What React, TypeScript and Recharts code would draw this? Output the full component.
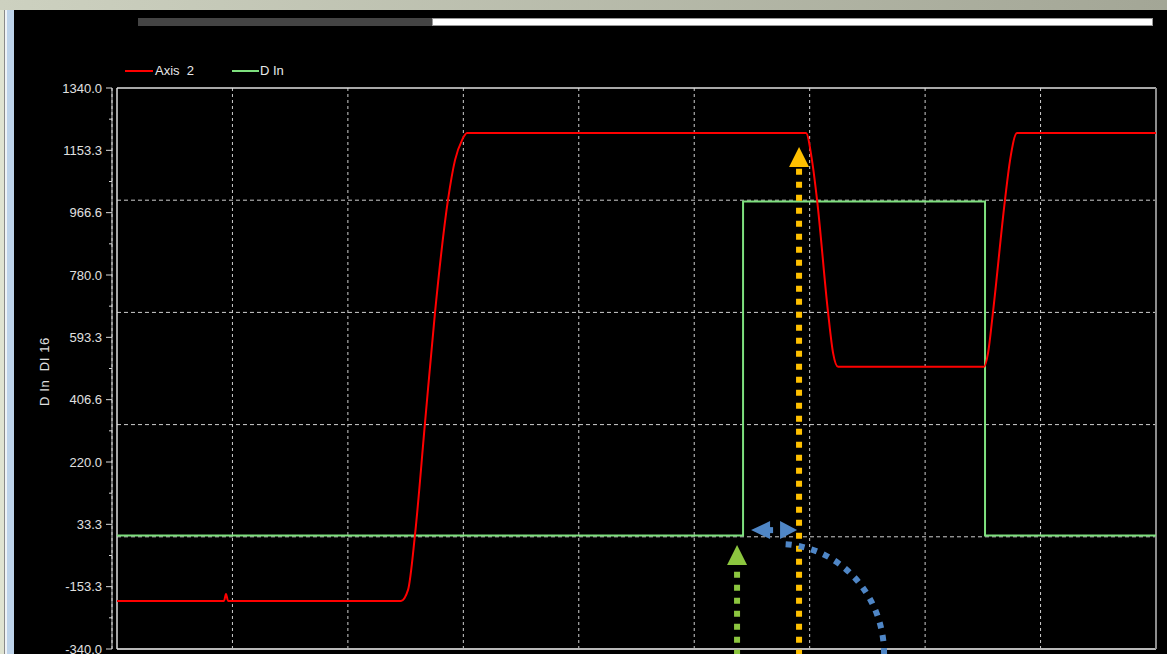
import React from 'react';
import { LineChart, Line, XAxis, YAxis, CartesianGrid, ReferenceLine, ReferenceDot } from 'recharts';

// time axis in grid divisions (0..9), values in the y-axis units
const axis2X = [0, 0.927, 0.944, 0.962, 2.46, 2.521, 2.581, 2.668, 2.755, 2.867, 2.928, 2.989, 3.032, 5.968, 6.02, 6.064, 6.159, 6.203, 6.246, 7.51, 7.545, 7.588, 7.692, 7.736, 7.796, 9];
const axis2Y = [-196, -196, -175, -196, -196, -163, 1, 337, 669, 1005, 1124, 1184, 1205, 1205, 1124, 1005, 669, 546, 505, 505, 546, 669, 1005, 1124, 1205, 1205];

const dInX = [0, 5.423, 5.423, 7.519, 7.519, 9];
const dInY = [0, 0, 1000, 1000, 0, 0];

const yTicks = [-340, -153.33, 33.33, 220, 406.67, 593.33, 780, 966.67, 1153.33, 1340];
const yTickLabels = ['-340.0', '-153.3', '33.3', '220.0', '406.6', '593.3', '780.0', '966.6', '1153.3', '1340.0'];
const yMinorTicks = [-246.67, -60, 126.67, 313.33, 500, 686.67, 873.33, 1060, 1246.67];
const xGridTicks = [1, 2, 3, 4, 5, 6, 7, 8];
const yGridLines = [-4, 332, 668, 1004];

const axis2Data = axis2X.map((x, i) => ({ x, v: axis2Y[i] }));
const dInData = dInX.map((x, i) => ({ x, v: dInY[i] }));

const FONT = '"Liberation Sans", Arial, sans-serif';

const YTick = ({ x, y, payload }: any) => {
  const idx = yTicks.findIndex((t) => Math.abs(t - payload.value) < 0.01);
  if (idx < 0) {
    return <line x1={x - 3} y1={y} x2={x} y2={y} stroke="#d8d8d8" strokeWidth={1} />;
  }
  return (
    <g>
      <line x1={x - 6} y1={y} x2={x} y2={y} stroke="#d8d8d8" strokeWidth={1} />
      <text x={x - 10} y={y} dy={4.5} textAnchor="end" fill="#e0e0e0" fontSize={13} fontFamily={FONT}>
        {yTickLabels[idx]}
      </text>
    </g>
  );
};

const YLabel = ({ viewBox }: any) => {
  const cx = viewBox.x + 45;
  const cy = viewBox.y + viewBox.height / 2 + 3;
  return (
    <text
      x={cx}
      y={cy}
      transform={`rotate(-90, ${cx}, ${cy})`}
      textAnchor="middle"
      dy={4}
      fill="#e0e0e0"
      fontSize={13}
      letterSpacing={0.6}
      fontFamily={FONT}
      style={{ whiteSpace: 'pre' }}
    >
      {'D In  DI 16'}
    </text>
  );
};

// arrow heads drawn around the referenced point
const UpHead = (color: string) => (props: any) => {
  const { cx, cy } = props;
  return <polygon points={`${cx},${cy} ${cx - 10},${cy + 20} ${cx + 10},${cy + 20}`} fill={color} />;
};

const DoubleHead = (props: any) => {
  const { cx, cy } = props;
  return (
    <g fill="#4f86c6">
      <polygon points={`${cx - 28},${cy} ${cx - 9},${cy - 9} ${cx - 9},${cy + 9}`} />
      <rect x={cx - 10} y={cy - 3} width={4} height={6} />
      <polygon points={`${cx + 18},${cy} ${cx + 1},${cy - 9} ${cx + 1},${cy + 9}`} />
    </g>
  );
};

const BlueArc = (props: any) => {
  const { cx, cy } = props;
  return (
    <path
      d={`M ${cx + 105} ${cy} A 105 110 0 0 0 ${cx} ${cy - 110}`}
      fill="none"
      stroke="#4f86c6"
      strokeWidth={6}
      strokeDasharray="6 7"
    />
  );
};

const LegendBox = () => (
  <div style={{ position: 'absolute', left: 125, top: 63, display: 'flex', alignItems: 'center', fontFamily: FONT, fontSize: 13, color: '#e8e8e8' }}>
    <span style={{ display: 'inline-block', width: 28, height: 2, background: '#ff0000' }} />
    <span style={{ whiteSpace: 'pre', marginLeft: 2, width: 77 }}>{'Axis  2'}</span>
    <span style={{ display: 'inline-block', width: 27, height: 2, background: '#7ee07e' }} />
    <span style={{ marginLeft: 1 }}>D In</span>
  </div>
);

export default function App() {
  return (
    <div style={{ position: 'fixed', left: 0, top: 0, width: 1167, height: 654, overflow: 'hidden', background: '#000' }}>
      {/* window frame */}
      <div style={{ position: 'absolute', left: 0, top: 0, width: 1167, height: 10, background: 'linear-gradient(to right, #cdd1c0, #a3a696)' }} />
      <div style={{ position: 'absolute', left: 0, top: 10, width: 4, height: 644, background: '#dfe3d1' }} />
      <div style={{ position: 'absolute', left: 4, top: 10, width: 1, height: 644, background: '#8a8a8a' }} />
      <div style={{ position: 'absolute', left: 5, top: 10, width: 2, height: 644, background: '#eef2f6' }} />
      <div style={{ position: 'absolute', left: 7, top: 10, width: 7, height: 644, background: '#bdd3ea' }} />
      {/* scroll bar */}
      <div style={{ position: 'absolute', left: 138, top: 18, width: 294, height: 8, background: '#444' }} />
      <div style={{ position: 'absolute', left: 432, top: 18, width: 721, height: 8, background: '#fff', boxShadow: 'inset 0 0 0 1px #999' }} />
      <LegendBox />
      <div style={{ position: 'absolute', left: 0, top: 0 }}>
        <LineChart width={1167} height={660} margin={{ top: 88, right: 11, bottom: 11, left: 0 }}>
          <CartesianGrid horizontal={false} stroke="#cfcfcf" strokeDasharray="3 3" />
          <XAxis type="number" dataKey="x" domain={[-0.0433, 9]} ticks={xGridTicks} allowDataOverflow hide />
          <YAxis
            type="number"
            domain={[-340, 1340]}
            ticks={[...yTicks, ...yMinorTicks]}
            interval={0}
            width={112}
            tickSize={0}
            tickMargin={0}
            tickLine={false}
            tick={<YTick />}
            axisLine={{ stroke: '#d8d8d8' }}
            label={<YLabel />}
          />
          {yGridLines.map((v) => (
            <ReferenceLine
              key={v}
              segment={[{ x: 0, y: v }, { x: 9, y: v }]}
              stroke="#cfcfcf"
              strokeDasharray="4 3"
            />
          ))}
          {/* plot frame */}
          <ReferenceLine segment={[{ x: 0, y: 1340 }, { x: 9, y: 1340 }]} stroke="#e0e0e0" strokeWidth={1.5} ifOverflow="visible" />
          <ReferenceLine segment={[{ x: 0, y: -340 }, { x: 9, y: -340 }]} stroke="#b8b8b8" strokeWidth={2} ifOverflow="visible" />
          <ReferenceLine segment={[{ x: 0, y: -340 }, { x: 0, y: 1340 }]} stroke="#e0e0e0" strokeWidth={1.5} ifOverflow="visible" />
          <ReferenceLine segment={[{ x: 9, y: -340 }, { x: 9, y: 1340 }]} stroke="#8c8c8c" strokeWidth={2} ifOverflow="visible" />

          <Line data={dInData} dataKey="v" type="linear" stroke="#7ee07e" strokeWidth={2} dot={false} activeDot={false} isAnimationActive={false} />
          <Line data={axis2Data} dataKey="v" type="monotone" stroke="#ff0000" strokeWidth={2} dot={false} activeDot={false} isAnimationActive={false} />

          {/* annotation arrows */}
          <ReferenceLine segment={[{ x: 5.371, y: -360 }, { x: 5.371, y: -92 }]} stroke="#8cc63f" strokeWidth={6} strokeDasharray="6 7" ifOverflow="visible" />
          <ReferenceDot x={5.371} y={-28.6} r={1} ifOverflow="visible" shape={UpHead('#8cc63f')} />
          <ReferenceLine segment={[{ x: 5.908, y: -360 }, { x: 5.908, y: 1100 }]} stroke="#ffc000" strokeWidth={6} strokeDasharray="6 7" ifOverflow="visible" />
          <ReferenceDot x={5.908} y={1163} r={1} ifOverflow="visible" shape={UpHead('#ffc000')} />
          <ReferenceDot x={5.735} y={-355} r={1} ifOverflow="visible" shape={BlueArc} />
          <ReferenceDot x={5.735} y={16} r={1} ifOverflow="visible" shape={DoubleHead} />
        </LineChart>
      </div>
    </div>
  );
}
